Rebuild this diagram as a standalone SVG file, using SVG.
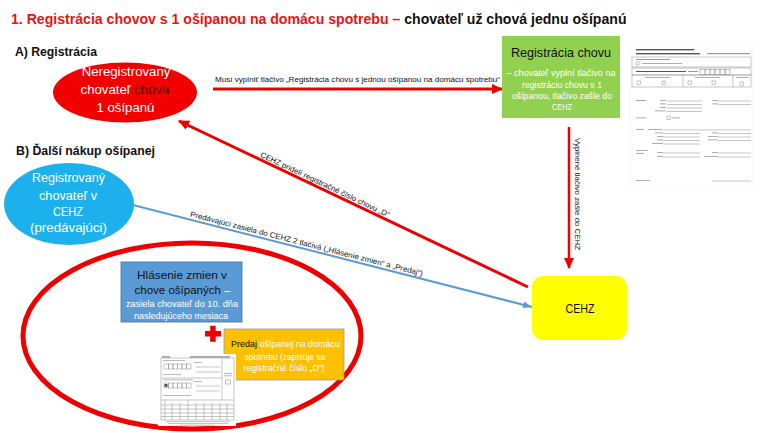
<svg xmlns="http://www.w3.org/2000/svg" width="770" height="433" viewBox="0 0 770 433">
<style>
.t{font-family:"Liberation Sans",Arial,sans-serif}
.b{font-weight:bold}
.w{fill:#ffffff}
.k{fill:#111111}
.red{stroke:#ee0000;fill:none}
.fl{stroke:#8a8a8a;stroke-width:0.5;fill:none}
.fb{fill:#9a9a9a}
.fd{fill:#555555}
</style>
<defs>
<marker id="ahr" markerUnits="userSpaceOnUse" markerWidth="11" markerHeight="10" refX="10" refY="5" orient="auto">
<path d="M0,0 L11,5 L0,10 z" fill="#ee0000"/>
</marker>
<marker id="ahb" markerUnits="userSpaceOnUse" markerWidth="9" markerHeight="7" refX="9" refY="3.5" orient="auto">
<path d="M0,0 L9,3.5 L0,7 z" fill="#5b9bd5"/>
</marker>
</defs>
<rect width="770" height="433" fill="#ffffff"/>

<g id="title">
<text class="t b" x="11" y="24" font-size="14.1"><tspan fill="#ee1111">1. Registrácia chovov s 1 ošípanou na domácu spotrebu –</tspan><tspan fill="#111111"> chovateľ už chová jednu ošípanú</tspan></text>
</g>
<g id="heading-a">
<text class="t b k" x="15" y="56" font-size="12.6" textLength="82" lengthAdjust="spacingAndGlyphs">A) Registrácia</text>
</g>
<g id="heading-b">
<text class="t b k" x="16" y="155" font-size="12.6" textLength="139" lengthAdjust="spacingAndGlyphs">B) Ďalší nákup ošípanej</text>
</g>

<g id="connectors">
<line class="red" x1="213" y1="89" x2="502" y2="89" stroke-width="3" marker-end="url(#ahr)"/>
<text class="t k" x="215" y="82" font-size="7.8" textLength="285" lengthAdjust="spacingAndGlyphs">Musí vyplniť tlačivo „Registrácia chovu s jednou ošípanou na domácu spotrebu“</text>
<line class="red" x1="569" y1="127" x2="569" y2="268" stroke-width="2.5" marker-end="url(#ahr)"/>
<text class="t k" transform="translate(575,138) rotate(90)" font-size="7.8" textLength="112" lengthAdjust="spacingAndGlyphs">Vyplnené tlačivo zašle do CEHZ</text>
<line class="red" x1="528" y1="287" x2="179" y2="121" stroke-width="3" marker-end="url(#ahr)"/>
<text class="t k" transform="translate(258.5,159.2) rotate(25.4)" y="-3" font-size="7.7" textLength="142" lengthAdjust="spacingAndGlyphs">CEHZ pridelí registračné číslo chovu „D“</text>
<line x1="133" y1="205" x2="532" y2="307" stroke="#5b9bd5" stroke-width="2" marker-end="url(#ahb)"/>
<text class="t k" transform="translate(189,219.3) rotate(14.4)" y="-3" font-size="7.6" textLength="240" lengthAdjust="spacingAndGlyphs">Predávajúci zasiela do CEHZ 2 tlačivá  („Hlásenie zmien“ a „Predaj“)</text>
</g>

<g id="node-neregistrovany">
<ellipse cx="125" cy="92.5" rx="72" ry="30" fill="#f20000"/>
<text class="t w" x="126" y="76" font-size="13.2" text-anchor="middle">Neregistrovaný</text>
<text class="t w" x="125" y="94" font-size="13.2" text-anchor="middle">chovateľ <tspan fill="#5a0000">chová</tspan></text>
<text class="t w" x="125.5" y="112" font-size="13.2" text-anchor="middle">1 ošípanú</text>
</g>

<g id="node-registracia-chovu">
<rect x="502" y="36" width="118" height="82" fill="#92d050"/>
<text class="t k" x="561" y="57" font-size="12.6" text-anchor="middle" textLength="100" lengthAdjust="spacingAndGlyphs">Registrácia chovu</text>
<text class="t w" x="561" y="76" font-size="8.9" text-anchor="middle" textLength="109" lengthAdjust="spacingAndGlyphs">– chovateľ vyplní tlačivo na</text>
<text class="t w" x="562" y="88" font-size="8.9" text-anchor="middle" textLength="80" lengthAdjust="spacingAndGlyphs">registráciu chovu s 1</text>
<text class="t w" x="562" y="99" font-size="8.9" text-anchor="middle" textLength="100" lengthAdjust="spacingAndGlyphs">ošípanou, tlačivo zašle do</text>
<text class="t w" x="562" y="110" font-size="8.9" text-anchor="middle" textLength="20" lengthAdjust="spacingAndGlyphs">CEHZ</text>
</g>

<g id="form-registracia">
<rect x="630" y="45" width="123" height="142" fill="#ffffff" stroke="#eeeeee" stroke-width="0.5"/>
<rect class="fd" x="636" y="49" width="58" height="1.4"/>
<rect class="fd" x="636" y="53" width="64" height="1.4"/>
<rect class="fb" x="707" y="53" width="43" height="1.2"/>
<rect class="fl" x="632" y="57" width="119" height="10"/>
<rect class="fb" x="636" y="59" width="34" height="1"/>
<rect class="fl" x="636" y="62" width="3" height="3"/>
<rect class="fb" x="642" y="63" width="40" height="0.8"/>
<rect class="fl" x="632" y="68" width="119" height="7"/>
<rect class="fd" x="636" y="71" width="50" height="1"/>
<rect class="fb" x="688" y="71" width="10" height="1"/>
<rect class="fl" x="700" y="69.5" width="5" height="5"/>
<rect class="fl" x="705" y="69.5" width="5" height="5"/>
<rect class="fl" x="710" y="69.5" width="5" height="5"/>
<rect class="fl" x="715" y="69.5" width="5" height="5"/>
<rect class="fl" x="720" y="69.5" width="5" height="5"/>
<rect class="fl" x="725" y="69.5" width="5" height="5"/>
<rect class="fl" x="632" y="75" width="119" height="12"/>
<line class="fl" x1="683" y1="75" x2="683" y2="87"/>
<line class="fl" x1="733" y1="75" x2="733" y2="87"/>
<rect class="fb" x="645" y="77" width="25" height="0.8"/>
<rect class="fb" x="695" y="77" width="25" height="0.8"/>
<rect class="fb" x="736" y="77" width="13" height="0.8"/>
<rect class="fl" x="637" y="81" width="3.5" height="3.5"/>
<rect class="fl" x="662" y="81" width="3.5" height="3.5"/>
<rect class="fl" x="688" y="81" width="3.5" height="3.5"/>
<rect class="fl" x="712" y="81" width="3.5" height="3.5"/>
<rect class="fl" x="740" y="82" width="3.5" height="3.5"/>
<rect class="fb" x="636" y="100" width="10" height="0.9"/>
<rect class="fb" x="660" y="100" width="6" height="0.8"/>
<line class="fl" x1="667" y1="101" x2="702" y2="101"/>
<rect class="fb" x="660" y="103.5" width="6" height="0.8"/>
<line class="fl" x1="667" y1="104.5" x2="702" y2="104.5"/>
<rect class="fb" x="660" y="107" width="6" height="0.8"/>
<line class="fl" x1="667" y1="108" x2="702" y2="108"/>
<rect class="fb" x="655" y="110.5" width="11" height="0.8"/>
<line class="fl" x1="667" y1="111.5" x2="702" y2="111.5"/>
<rect class="fb" x="712" y="100" width="6" height="0.8"/>
<line class="fl" x1="718" y1="101" x2="751" y2="101"/>
<rect class="fb" x="712" y="103.5" width="6" height="0.8"/>
<line class="fl" x1="718" y1="104.5" x2="751" y2="104.5"/>
<rect class="fb" x="636" y="117.5" width="10" height="0.8"/>
<rect class="fl" x="667" y="116" width="3.5" height="3.5"/>
<rect class="fb" x="672" y="117.5" width="8" height="0.8"/>
<rect class="fb" x="636" y="129" width="8" height="0.8"/>
<rect class="fb" x="648" y="129" width="14" height="0.8"/>
<line class="fl" x1="663" y1="130" x2="751" y2="130"/>
<rect class="fb" x="655" y="132.5" width="8" height="0.8"/>
<line class="fl" x1="663" y1="133.5" x2="700" y2="133.5"/>
<rect class="fb" x="712" y="132.5" width="6" height="0.8"/>
<line class="fl" x1="718" y1="133.5" x2="751" y2="133.5"/>
<rect class="fb" x="657" y="136" width="6" height="0.8"/>
<line class="fl" x1="663" y1="137" x2="700" y2="137"/>
<rect class="fb" x="708" y="136" width="10" height="0.8"/>
<line class="fl" x1="718" y1="137" x2="751" y2="137"/>
<rect class="fb" x="657" y="139.5" width="6" height="0.8"/>
<line class="fl" x1="663" y1="140.5" x2="700" y2="140.5"/>
<rect class="fb" x="708" y="139.5" width="10" height="0.8"/>
<line class="fl" x1="718" y1="140.5" x2="751" y2="140.5"/>
<rect class="fb" x="652" y="143" width="11" height="0.8"/>
<line class="fl" x1="663" y1="144" x2="700" y2="144"/>
<rect class="fb" x="636" y="150" width="12" height="0.8"/>
<rect class="fb" x="636" y="153" width="8" height="0.8"/>
<rect class="fb" x="657" y="152" width="6" height="0.8"/>
<line class="fl" x1="663" y1="153" x2="700" y2="153"/>
<rect class="fb" x="712" y="152" width="6" height="0.8"/>
<line class="fl" x1="718" y1="153" x2="751" y2="153"/>
<rect class="fb" x="657" y="156" width="6" height="0.8"/>
<line class="fl" x1="663" y1="157" x2="700" y2="157"/>
<rect class="fb" x="704" y="156" width="14" height="0.8"/>
<line class="fl" x1="718" y1="157" x2="751" y2="157"/>
<rect class="fb" x="636" y="180" width="14" height="0.8"/>
<line class="fl" x1="712" y1="181" x2="751" y2="181"/>
</g>

<g id="node-registrovany">
<ellipse cx="69" cy="204" rx="65" ry="41" fill="#1cb0ec"/>
<text class="t w" x="68.5" y="182" font-size="13" text-anchor="middle" textLength="73" lengthAdjust="spacingAndGlyphs">Registrovaný</text>
<text class="t w" x="68" y="199.5" font-size="13" text-anchor="middle" textLength="58" lengthAdjust="spacingAndGlyphs">chovateľ v</text>
<text class="t w" x="68" y="216" font-size="13" text-anchor="middle" textLength="30" lengthAdjust="spacingAndGlyphs">CEHZ</text>
<text class="t w" x="68.5" y="232" font-size="13" text-anchor="middle" textLength="77" lengthAdjust="spacingAndGlyphs">(predávajúci)</text>
</g>

<g id="node-cehz">
<rect x="532" y="276" width="95" height="64" rx="11" ry="11" fill="#ffff00"/>
<text class="t k" x="580" y="313" font-size="12" text-anchor="middle" textLength="29" lengthAdjust="spacingAndGlyphs">CEHZ</text>
</g>

<g id="node-dalsi-nakup">
<ellipse cx="192" cy="336" rx="169" ry="93" fill="none" stroke="#ee0000" stroke-width="5"/>
</g>

<g id="node-hlasenie">
<rect x="121" y="262" width="121" height="60" fill="#5b9bd5" stroke="#41719c" stroke-width="0.8"/>
<text class="t k" x="182" y="278.5" font-size="11.8" text-anchor="middle" textLength="90" lengthAdjust="spacingAndGlyphs">Hlásenie zmien v</text>
<text class="t k" x="182.5" y="293.5" font-size="11.5" text-anchor="middle">chove ošípaných <tspan class="w">–</tspan></text>
<text class="t w" x="182" y="307" font-size="9.1" text-anchor="middle" textLength="112" lengthAdjust="spacingAndGlyphs">zasiela chovateľ do 10. dňa</text>
<text class="t w" x="181" y="318.5" font-size="9.1" text-anchor="middle" textLength="94" lengthAdjust="spacingAndGlyphs">nasledujúceho mesiaca</text>
</g>

<g id="plus">
<rect x="205" y="331" width="16" height="5.5" fill="#ee0000"/>
<rect x="210.2" y="325.8" width="5.5" height="16" fill="#ee0000"/>
</g>

<g id="node-predaj">
<rect x="224" y="329" width="120" height="51" fill="#ffc000" stroke="#9c9c9c" stroke-width="0.8"/>
<text class="t w" x="285.5" y="347" font-size="8.95" text-anchor="middle"><tspan class="k">Predaj</tspan> ošípanej na domácu</text>
<text class="t w" x="285" y="359.5" font-size="8.9" text-anchor="middle" textLength="81" lengthAdjust="spacingAndGlyphs">spotrebu (zapisuje sa</text>
<text class="t w" x="284" y="371" font-size="8.9" text-anchor="middle" textLength="81" lengthAdjust="spacingAndGlyphs">registračné číslo „D“)</text>
</g>

<g id="form-hlasenie">
<rect x="158" y="354" width="78" height="72" fill="#ffffff"/>
<rect class="fd" x="162" y="356.5" width="8" height="0.9"/>
<rect class="fd" x="190" y="356.5" width="40" height="0.9"/>
<rect class="fl" x="161" y="358" width="73" height="62"/>
<line class="fl" x1="222" y1="358" x2="222" y2="400"/>
<line class="fl" x1="161" y1="400" x2="234" y2="400"/>
<rect class="fb" x="163" y="360" width="22" height="0.7"/>
<rect class="fl" x="164" y="364" width="4.5" height="5"/>
<rect class="fl" x="168.5" y="364" width="4.5" height="5"/>
<rect class="fl" x="173" y="364" width="4.5" height="5"/>
<rect class="fl" x="177.5" y="364" width="4.5" height="5"/>
<rect class="fl" x="182" y="364" width="4.5" height="5"/>
<rect class="fl" x="186.5" y="364" width="4.5" height="5"/>
<rect class="fb" x="194" y="362" width="8" height="0.7"/>
<line class="fl" x1="196" y1="367" x2="220" y2="367"/>
<line class="fl" x1="196" y1="372" x2="220" y2="372"/>
<rect class="fb" x="163" y="374" width="18" height="0.7"/>
<line class="fl" x1="161" y1="378" x2="222" y2="378"/>
<rect class="fb" x="163" y="379.5" width="30" height="0.7"/>
<rect class="fl" x="164" y="383" width="4.5" height="5"/>
<rect class="fl" x="168.5" y="383" width="4.5" height="5"/>
<rect class="fl" x="173" y="383" width="4.5" height="5"/>
<rect class="fl" x="177.5" y="383" width="4.5" height="5"/>
<rect class="fl" x="182" y="383" width="4.5" height="5"/>
<rect class="fl" x="186.5" y="383" width="4.5" height="5"/>
<rect class="fd" x="164.5" y="384" width="3" height="3"/>
<rect class="fb" x="194" y="381" width="8" height="0.7"/>
<line class="fl" x1="196" y1="386" x2="220" y2="386"/>
<line class="fl" x1="196" y1="391" x2="220" y2="391"/>
<rect class="fb" x="163" y="395" width="28" height="0.7"/>
<rect class="fb" x="224" y="373" width="8" height="0.7"/>
<rect class="fb" x="224" y="375.5" width="8" height="0.7"/>
<rect class="fl" x="225.5" y="380" width="5" height="4"/>
<line class="fl" x1="161" y1="405" x2="234" y2="405"/>
<line class="fl" x1="161" y1="409" x2="234" y2="409"/>
<line class="fl" x1="161" y1="413" x2="234" y2="413"/>
<line class="fl" x1="161" y1="416.5" x2="234" y2="416.5"/>
<line class="fl" x1="165" y1="400" x2="165" y2="420"/>
<line class="fl" x1="172" y1="403" x2="172" y2="420"/>
<line class="fl" x1="180" y1="403" x2="180" y2="420"/>
<line class="fl" x1="188" y1="400" x2="188" y2="420"/>
<line class="fl" x1="196" y1="403" x2="196" y2="420"/>
<line class="fl" x1="204" y1="403" x2="204" y2="420"/>
<line class="fl" x1="212" y1="403" x2="212" y2="420"/>
<line class="fl" x1="220" y1="403" x2="220" y2="420"/>
<line class="fl" x1="227" y1="403" x2="227" y2="420"/>
<rect class="fb" x="166" y="421.5" width="64" height="0.6"/>
<rect class="fb" x="168" y="423.2" width="60" height="0.6"/>
<rect class="fb" x="180" y="424.8" width="35" height="0.6"/>
</g>
</svg>
